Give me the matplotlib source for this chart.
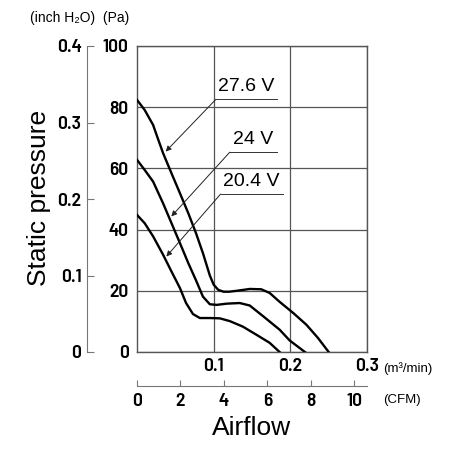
import matplotlib
matplotlib.use('Agg')
import matplotlib.pyplot as plt

plt.rcParams['font.family'] = ['Liberation Sans', 'DejaVu Sans']

NARROW = ['Barlow Semi Condensed', 'DejaVu Sans']

# airflow (m3/min) vs static pressure (Pa)
flow_276 = [0, 0.010, 0.021, 0.027, 0.034, 0.045, 0.056, 0.067, 0.077, 0.086, 0.095,
            0.100, 0.106, 0.113, 0.120, 0.130, 0.147, 0.162, 0.173, 0.186, 0.204, 0.221, 0.236, 0.250]
pres_276 = [82.4, 79.1, 74.2, 69.9, 65.0, 58.4, 51.9, 45.3, 38.8, 32.3, 25.0,
            22.0, 20.3, 19.7, 19.7, 20.0, 20.6, 20.5, 19.3, 16.4, 12.7, 8.9, 4.6, 0]

flow_24 = [0, 0.010, 0.021, 0.034, 0.045, 0.056, 0.067, 0.077, 0.086, 0.095, 0.104,
           0.117, 0.134, 0.147, 0.164, 0.186, 0.199, 0.219]
pres_24 = [62.8, 59.5, 55.7, 48.6, 42.1, 35.6, 29.0, 23.4, 18.1, 15.6, 15.4,
           15.8, 16.0, 15.2, 11.8, 7.3, 3.8, 0]

flow_204 = [0, 0.010, 0.021, 0.034, 0.045, 0.056, 0.064, 0.073, 0.082, 0.095, 0.108,
            0.121, 0.138, 0.156, 0.173, 0.186]
pres_204 = [44.8, 42.1, 37.8, 31.8, 26.3, 20.9, 16.0, 12.4, 11.1, 11.1, 11.0,
            10.1, 8.3, 5.6, 3.0, 0]

curves = [(flow_276, pres_276), (flow_24, pres_24), (flow_204, pres_204)]

# labels: text, underline left x, underline right x, underline y, arrow tip (x, y)
labels = ['27.6 V', '24 V', '20.4 V']
label_left = [0.103, 0.121, 0.109]
label_right = [0.182, 0.182, 0.190]
label_y = [82.6, 65.3, 51.6]
arrow_tip = [(0.0374, 65.5), (0.0448, 44.3), (0.0383, 31.2)]

pa_ticks = [0, 20, 40, 60, 80, 100]
inch_ticks = [0, 0.1, 0.2, 0.3, 0.4]
flow_ticks = [0.1, 0.2, 0.3]
cfm_ticks = [0, 2, 4, 6, 8, 10]
CFM_PER_M3MIN = 35.3147

W = H = 450.0
left, right = 137 / W, 367 / W
top, bottom = 1 - 46 / H, 1 - 352 / H

fig = plt.figure(figsize=(4.5, 4.5), dpi=100)
ax = fig.add_axes([left, bottom, right - left, top - bottom])

for fx, py in curves:
    ax.plot(fx, py, color='black', linewidth=1.7, solid_joinstyle='round', zorder=3)

for txt, lx, rx, ly, tip in zip(labels, label_left, label_right, label_y, arrow_tip):
    ax.plot([lx, rx], [ly, ly], color='#333333', linewidth=0.7, zorder=4)
    ax.annotate('', xy=tip, xytext=(lx, ly),
                arrowprops=dict(arrowstyle='-|>', color='#222222', lw=0.7,
                                mutation_scale=8, shrinkA=0, shrinkB=0), zorder=4)
    ax.text((lx + rx) / 2, ly + 1.5, txt, ha='center', va='bottom', fontsize=14)

tick_font = dict(family=NARROW, fontsize=14, fontweight=600)

ax.set_xlim(0, 0.3)
ax.set_ylim(0, 100)
ax.set_xticks(flow_ticks)
ax.set_yticks(pa_ticks)
ax.set_xticklabels(['0.1', '0.2', '0.3'], **tick_font)
ax.set_yticklabels([str(v) for v in pa_ticks], **tick_font)
ax.tick_params(axis='both', length=0)
ax.tick_params(axis='x', pad=4)
ax.tick_params(axis='y', pad=6)
ax.grid(True, color='#555555', linewidth=0.9)
for s in ax.spines.values():
    s.set_color('#555555')
    s.set_linewidth(1.0)
ax.set_axisbelow(True)

# inch H2O axis
ax_in = fig.add_axes([87 / W, bottom, 0.05, top - bottom])
ax_in.patch.set_visible(False)
for k in ['top', 'right', 'bottom']:
    ax_in.spines[k].set_visible(False)
ax_in.spines['left'].set_color('#777777')
ax_in.set_ylim(0, 0.4)
ax_in.set_yticks(inch_ticks)
ax_in.set_yticklabels(['0', '0.1', '0.2', '0.3', '0.4'], **tick_font)
ax_in.tick_params(axis='y', direction='in', length=5, color='#777777', pad=4)
ax_in.set_xticks([])

# CFM axis
ax_cfm = fig.add_axes([left, 1 - 386 / H, right - left, 0.05])
ax_cfm.patch.set_visible(False)
for k in ['top', 'right', 'left']:
    ax_cfm.spines[k].set_visible(False)
ax_cfm.spines['bottom'].set_color('#777777')
ax_cfm.set_xlim(0, 0.3 * CFM_PER_M3MIN)
ax_cfm.set_xticks(cfm_ticks)
ax_cfm.set_xticklabels([str(v) for v in cfm_ticks], **tick_font)
ax_cfm.tick_params(axis='x', direction='in', length=4, color='#777777', pad=5)
ax_cfm.set_yticks([])

fig.text(30 / W, 1 - 18 / H, '(inch H₂O)  (Pa)', fontsize=10, va='center', ha='left')
fig.text(383 / W, 1 - 369 / H, '(m³/min)', fontsize=9.5, va='center', ha='left')
fig.text(383 / W, 1 - 400 / H, '(CFM)', fontsize=9.5, va='center', ha='left')
fig.text(39 / W, 1 - 198 / H, 'Static pressure', fontsize=19, rotation=90, va='center', ha='center')
fig.text(252 / W, 1 - 428 / H, 'Airflow', fontsize=19, va='center', ha='center')

fig.savefig('out.png', dpi=100, facecolor='white')
